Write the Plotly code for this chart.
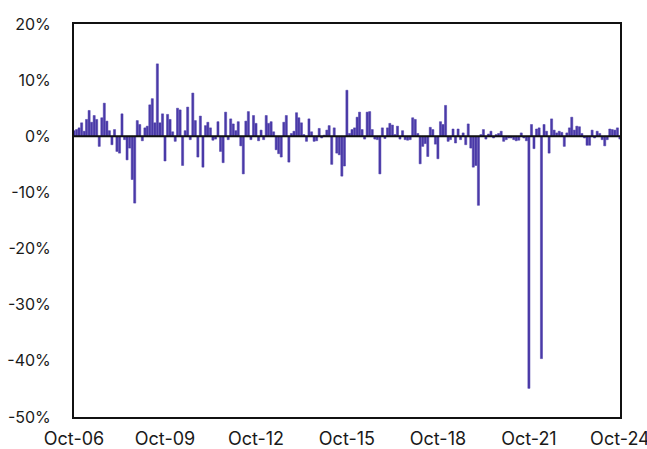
import pandas as pd
import plotly.graph_objects as go

# Monthly returns (%), Oct-06 .. Oct-24
seg_2006_2009 = [1.0, 1.2, 1.5, 2.4, 0.9, 3.0, 4.6, 2.5, 3.7, 3.0, -1.8, 3.3, 5.9, 2.7, 1.0, -1.5,
                 1.2, -2.7, -3.0, 4.0, -0.6, -4.2, -2.1, -7.7, -11.9, 2.8, 2.1, -0.8, 1.5, 1.8, 5.6,
                 6.7, 2.4, 12.9, 2.4, 4.0, -4.4, 3.9]
seg_2009_2012 = [3.0, 0.8, -0.9, 5.0, 4.7, -5.2, 1.0, 5.2, -0.6, 7.7, 2.8, -3.7, 3.6, -5.5, 1.9,
                 2.5, 1.5, -0.7, -0.5, 2.6, -2.7, -4.7, 4.3, -0.6, 3.1, 2.2, 1.0, 2.6, -1.7, -6.7,
                 2.7, 4.4, -0.6, 3.7, 2.3, -0.8, 1.1]
seg_2012_2016 = [-0.6, 3.7, 2.3, 2.6, 0.8, -2.4, -3.1, -3.7, 2.5, 3.7, -4.6, 0.5, 0.9, 4.2, 3.3,
                 2.4, 0.3, -0.9, 3.1, 0.8, -0.9, -0.8, 1.4, -0.3, 0.2, 1.1, 1.9, -5.0, 1.5, -3.0,
                 -3.3, -7.1, -5.3, 8.2, 0.5, 1.2, 1.5, 3.4, 4.3, 1.2]
seg_2016_2019 = [-0.5, 4.3, 4.4, 1.2, -0.5, -0.6, -6.7, 1.5, -0.4, 1.5, 2.3, 2.0, 0.3, 1.8, -0.5,
                 1.0, -0.6, -0.7, -0.6, 3.3, 3.0, 0.5, -4.9, -1.8, -1.3, -3.6, 1.6, 1.2, -1.4, -4.0,
                 2.6, 2.1, 5.5, -0.9, -0.6, 1.3]
seg_2019_2021 = [-1.2, 1.3, -0.6, 0.6, -1.5, 2.2, -2.1, -5.5, -5.2, -12.3, 0.3, 1.2, -0.5, 0.4, 0.9,
                 -0.3, 0.3, 0.5, 0.9, -0.9, -0.6, -0.3, -0.3, -0.6, -0.8, -0.7, 0.6, -0.3, -0.8]
seg_2021_2024 = [-44.9, 2.1, -2.2, 1.3, 1.5, -39.6, 2.1, 0.9, -3.0, 3.1, 1.1, 0.6, 0.9, 0.7, -1.8,
                 0.6, 1.5, 3.4, 1.1, 1.8, 1.7, 0.5, -0.3, -1.6, -1.6, 1.1, -0.3, 0.9, 0.5, -0.6,
                 -1.7, -0.6, 1.3, 1.2, 1.1, 1.5, -0.5]

values = (seg_2006_2009 + seg_2009_2012 + seg_2012_2016 + seg_2016_2019
          + seg_2019_2021 + seg_2021_2024)
months = pd.date_range("2006-10-01", periods=len(values), freq="MS")

y_ticks = [20, 10, 0, -10, -20, -30, -40, -50]
y_labels = ["20%", "10%", "0%", "-10%", "-20%", "-30%", "-40%", "-50%"]
x_ticks = ["2006-10-01", "2009-10-01", "2012-10-01", "2015-10-01",
           "2018-10-01", "2021-10-01", "2024-10-01"]
x_labels = ["Oct-06", "Oct-09", "Oct-12", "Oct-15", "Oct-18", "Oct-21", "Oct-24"]

fig = go.Figure(go.Bar(x=months, y=values, marker_color="#4a3aa8",
                       marker_line=dict(color="#4a3aa8", width=0.5)))

fig.update_layout(
    width=647, height=449,
    margin=dict(l=74, r=27, t=24, b=32),
    paper_bgcolor="white", plot_bgcolor="white",
    bargap=0.1, showlegend=False,
    font=dict(family="Inter, Roboto, sans-serif", size=17, color="#1a1a1a"),
    shapes=[dict(type="line", xref="paper", x0=0, x1=1, yref="y", y0=0, y1=0,
                 line=dict(color="#111111", width=2), layer="above")],
)
fig.update_xaxes(
    type="date", range=["2006-10-01", "2024-10-02"],
    tickvals=x_ticks, ticktext=x_labels, ticks="", showgrid=False,
    showline=True, linecolor="#111111", linewidth=2, mirror=True,
    zeroline=False, ticklabelstandoff=4, automargin=False,
    ticklabeloverflow="allow", tickfont=dict(size=18),
)
fig.update_yaxes(
    range=[-50, 20], tickvals=y_ticks, ticktext=y_labels, ticks="",
    showgrid=False, showline=True, linecolor="#111111", linewidth=2, mirror=True,
    zeroline=False, ticklabelstandoff=18, automargin=False,
    tickfont=dict(size=16),
)

fig.write_html("out.html", config={"displayModeBar": False},
               post_script="document.body.style.margin='0';document.body.style.overflow='hidden';")
